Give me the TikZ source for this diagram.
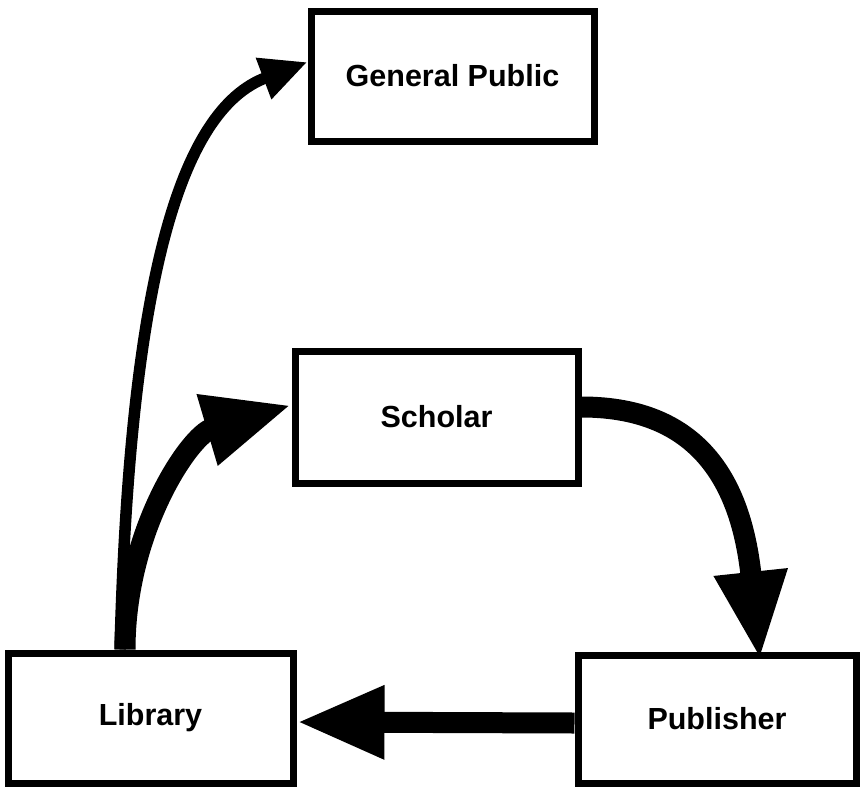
\documentclass[tikz,border=0pt]{standalone}
\usepackage{fontspec}
\setmainfont{Liberation Sans}
\usetikzlibrary{arrows.meta}
\begin{document}
\begin{tikzpicture}[x=1pt,y=-1pt,
  box/.style={draw=black, line width=7pt, fill=white, inner sep=0pt,
    font=\fontsize{30.5}{36}\selectfont\bfseries},
  thickarrow/.style={line width=21pt, -{Triangle[length=88pt,width=68pt]}},
  thinarrow/.style={line width=11.5pt, -{Triangle[length=47pt,width=41pt]}}]
\fill[white] (0,0) rectangle (863,788);
\useasboundingbox (0,0) rectangle (863,788);

\node[box, minimum width=283pt, minimum height=130pt] (gp) at (452.5,76) {General Public};
\node[box, minimum width=283pt, minimum height=132pt] (sch) at (436.5,417) {Scholar};
\node[box, minimum width=285pt, minimum height=130pt] (lib) at (150.5,718) {Library};
\node[box, minimum width=278pt, minimum height=128pt] (pub) at (717,719) {Publisher};

\coordinate (libtop1) at ([xshift=-30.5pt]lib.north);
\coordinate (libtop2) at ([xshift=-25.5pt]lib.north);

% Library -> General Public (thin)
\draw[thinarrow] (libtop1) .. controls (130,280) and (180,110) .. ([yshift=14pt]gp.west);
% Library -> Scholar (thick)
\draw[thickarrow] (libtop2) .. controls (125,530) and (190,435) .. ([yshift=12pt]sch.west);
% Scholar -> Publisher
\draw[thickarrow] ([yshift=10pt]sch.east) .. controls (705,407) and (742,490) .. ([xshift=43pt,yshift=-8pt]pub.north);
% Publisher -> Library
\draw[thickarrow] ([yshift=-4pt]pub.west) -- ([yshift=-4pt]lib.east);
\end{tikzpicture}
\end{document}
